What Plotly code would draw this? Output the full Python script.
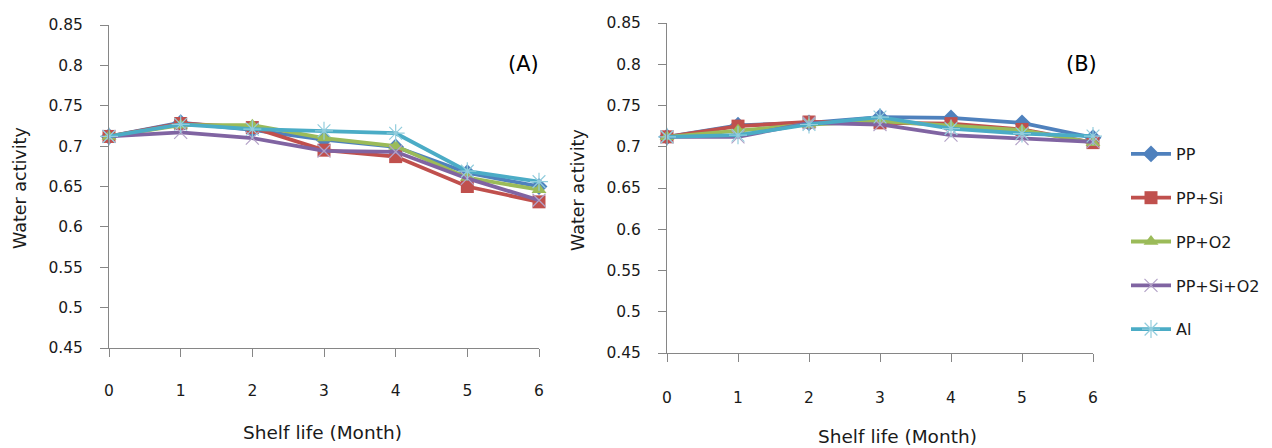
import plotly.graph_objects as go

months = [0, 1, 2, 3, 4, 5, 6]
series_names = ["PP", "PP+Si", "PP+O2", "PP+Si+O2", "Al"]

# Panel A
a_pp = [0.712, 0.729, 0.720, 0.708, 0.699, 0.667, 0.650]
a_ppsi = [0.712, 0.728, 0.723, 0.695, 0.687, 0.650, 0.631]
a_ppo2 = [0.712, 0.726, 0.726, 0.710, 0.700, 0.661, 0.646]
a_ppsio2 = [0.712, 0.717, 0.710, 0.694, 0.693, 0.660, 0.633]
a_al = [0.712, 0.727, 0.721, 0.719, 0.716, 0.669, 0.656]

# Panel B
b_pp = [0.712, 0.726, 0.729, 0.736, 0.735, 0.729, 0.711]
b_ppsi = [0.712, 0.725, 0.730, 0.729, 0.728, 0.721, 0.705]
b_ppo2 = [0.712, 0.720, 0.727, 0.731, 0.725, 0.720, 0.705]
b_ppsio2 = [0.712, 0.712, 0.729, 0.727, 0.714, 0.710, 0.706]
b_al = [0.712, 0.714, 0.727, 0.736, 0.722, 0.716, 0.713]

y_ticks = [0.45, 0.5, 0.55, 0.6, 0.65, 0.7, 0.75, 0.8, 0.85]
y_ticktext = ["0.45", "0.5", "0.55", "0.6", "0.65", "0.7", "0.75", "0.8", "0.85"]

colors = ["#4F81BD", "#C0504D", "#9BBB59", "#8064A2", "#4BACC6"]
marker_colors = ["#4F81BD", "#C0504D", "#9BBB59", "#B3A2C7", "#93CDDD"]
symbols = ["diamond", "square", "triangle-up", "x-thin-open", "asterisk-open"]
sizes = [13, 13, 13, 13, 15]

FONT = "DejaVu Sans"
TXT = "#1a1a1a"

fig = go.Figure()

panels = [
    ([a_pp, a_ppsi, a_ppo2, a_ppsio2, a_al], "x", "y", True),
    ([b_pp, b_ppsi, b_ppo2, b_ppsio2, b_al], "x2", "y2", False),
]
for data, xa, ya, show in panels:
    for i, (name, vals) in enumerate(zip(series_names, data)):
        open_sym = symbols[i].endswith("open")
        fig.add_trace(go.Scatter(
            x=months, y=vals, name=name, mode="lines+markers",
            xaxis=xa, yaxis=ya, showlegend=show, legendgroup=name,
            line=dict(color=colors[i], width=3.8),
            marker=dict(symbol=symbols[i], size=sizes[i],
                        color=marker_colors[i],
                        line=dict(color=marker_colors[i], width=1.2 if open_sym else 0)),
            cliponaxis=False,
        ))

axis_common = dict(showgrid=False, zeroline=False, showline=True, automargin=False,
                   linecolor="#868686", linewidth=1, ticks="outside",
                   tickcolor="#868686", ticklen=8,
                   tickfont=dict(family=FONT, size=15.5, color=TXT))


def ann(text, x, y, size, angle=0, color=TXT):
    return dict(text=text, x=x/1272, y=1-y/448, xref="paper", yref="paper",
                xanchor="center", yanchor="middle", textangle=angle,
                showarrow=False, font=dict(family=FONT, size=size, color=color))


fig.update_layout(
    width=1272, height=448,
    margin=dict(l=0, r=0, t=0, b=0, autoexpand=False),
    paper_bgcolor="white", plot_bgcolor="white",
    font=dict(family=FONT, size=16, color=TXT),
    xaxis=dict(domain=[109/1272, 539/1272], range=[0, 6], tickvals=months,
               anchor="y", ticklabelstandoff=20, **axis_common),
    yaxis=dict(domain=[1-348/448, 1-25/448], range=[0.45, 0.85],
               tickvals=y_ticks, ticktext=y_ticktext, anchor="x",
               ticklabelstandoff=14, **axis_common),
    xaxis2=dict(domain=[667/1272, 1093/1272], range=[0, 6], tickvals=months,
                anchor="y2", ticklabelstandoff=22, **axis_common),
    yaxis2=dict(domain=[1-353/448, 1-23/448], range=[0.45, 0.85],
                tickvals=y_ticks, ticktext=y_ticktext, anchor="x2",
                ticklabelstandoff=14, **axis_common),
    legend=dict(x=1126/1272, y=1-137/448, xanchor="left", yanchor="top",
                font=dict(family=FONT, size=16, color=TXT),
                tracegroupgap=20, itemwidth=40, bgcolor="rgba(0,0,0,0)"),
    annotations=[
        ann("(A)", 523, 64, 21, color="black"),
        ann("(B)", 1081, 64, 21, color="black"),
        ann("Water activity", 20, 188, 17.5, angle=-90),
        ann("Water activity", 578, 190, 17.5, angle=-90),
        ann("Shelf life (Month)", 322, 432, 18.5),
        ann("Shelf life (Month)", 897, 436, 18.5),
    ],
)

fig.write_html("out.html")
